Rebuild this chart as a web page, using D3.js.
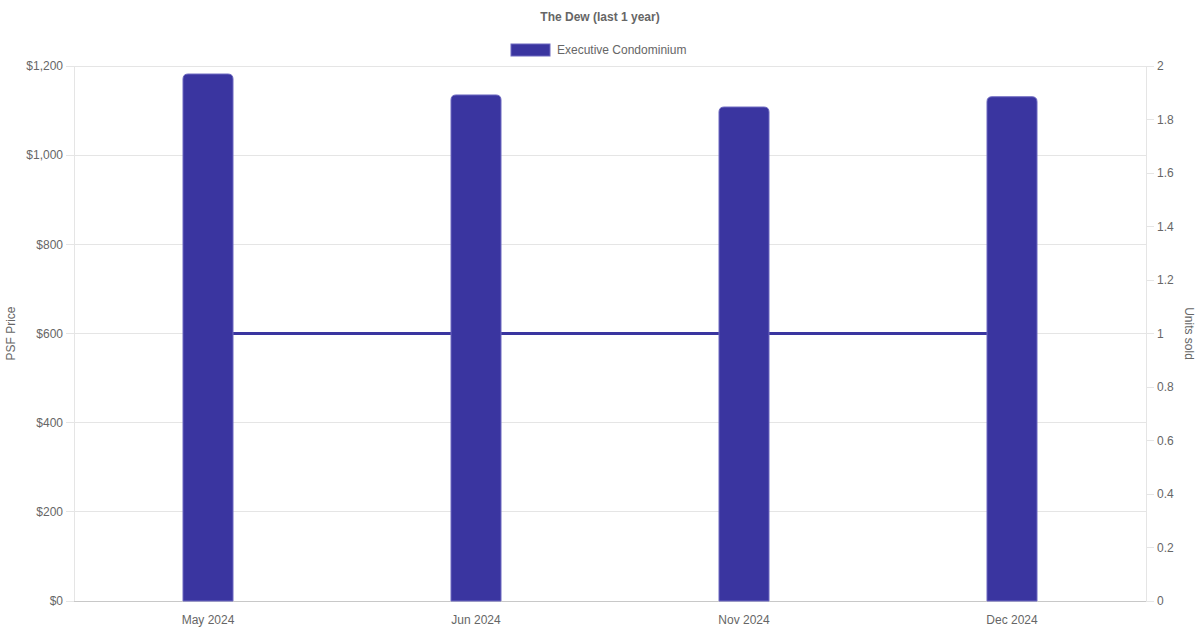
<!DOCTYPE html>
<html><head><meta charset="utf-8">
<script src="https://cdn.jsdelivr.net/npm/d3@7/dist/d3.min.js"></script>
<style>body{margin:0;background:#fff}svg{display:block;font-family:"Liberation Sans",Arial,sans-serif}</style>
</head><body><svg id="c" width="1200" height="630"></svg>
<script>
const categories = ["May 2024", "Jun 2024", "Nov 2024", "Dec 2024"];
const psfValues = [1182, 1135, 1108, 1131];
const unitsSold = [1, 1, 1, 1];
const leftTicks = [0, 200, 400, 600, 800, 1000, 1200];
const rightTicks = [0, 0.2, 0.4, 0.6, 0.8, 1, 1.2, 1.4, 1.6, 1.8, 2];
const title = "The Dew (last 1 year)";
const seriesName = "Executive Condominium";

const svg = d3.select("#c");
const m = {l: 74, r: 1146, t: 66, b: 601};
const color = "#3a35a0";
const x = d3.scaleBand().domain(categories).range([m.l, m.r]);
const yL = d3.scaleLinear().domain([0, 1200]).range([m.b, m.t]);
const yR = d3.scaleLinear().domain([0, 2]).range([m.b, m.t]);

// grid
svg.append("g").selectAll("line").data(leftTicks).join("line")
  .attr("x1", m.l - 8).attr("x2", m.r).attr("y1", d => yL(d)).attr("y2", d => yL(d))
  .attr("stroke", "#e5e5e5").attr("shape-rendering", "crispEdges");
svg.append("g").selectAll("line").data(rightTicks).join("line")
  .attr("x1", m.r).attr("x2", m.r + 8).attr("y1", d => yR(d)).attr("y2", d => yR(d))
  .attr("stroke", "#e5e5e5").attr("shape-rendering", "crispEdges");
[m.l, m.r].forEach(xx => svg.append("line").attr("x1", xx).attr("x2", xx).attr("y1", m.t).attr("y2", m.b)
  .attr("stroke", "#e5e5e5").attr("shape-rendering", "crispEdges"));
svg.append("line").attr("x1", m.l).attr("x2", m.r).attr("y1", m.b).attr("y2", m.b)
  .attr("stroke", "#c8c8c8").attr("shape-rendering", "crispEdges");

// left ticks labels
svg.append("g").selectAll("text").data(leftTicks).join("text")
  .attr("x", m.l - 11).attr("y", d => yL(d)).attr("dy", "0.35em").attr("text-anchor", "end")
  .attr("font-size", 12).attr("fill", "#666").text(d => "$" + d3.format(",")(d));
svg.append("g").selectAll("text").data(rightTicks).join("text")
  .attr("x", m.r + 11).attr("y", d => yR(d)).attr("dy", "0.35em").attr("text-anchor", "start")
  .attr("font-size", 12).attr("fill", "#666").text(d => d3.format("~g")(d));
svg.append("g").selectAll("text").data(categories).join("text")
  .attr("x", d => x(d) + x.bandwidth() / 2).attr("y", 620).attr("dy", "0.35em").attr("text-anchor", "middle")
  .attr("font-size", 12).attr("fill", "#666").text(d => d);

// axis titles
svg.append("text").attr("transform", `translate(15,${(m.t + m.b) / 2}) rotate(-90)`)
  .attr("text-anchor", "middle").attr("font-size", 12).attr("fill", "#666").text("PSF Price");
svg.append("text").attr("transform", `translate(1185,${(m.t + m.b) / 2}) rotate(90)`)
  .attr("text-anchor", "middle").attr("font-size", 12).attr("fill", "#666").text("Units sold");

// line (behind bars)
const line = d3.line().x((d, i) => x(categories[i]) + x.bandwidth() / 2).y(d => yR(d));
svg.append("path").datum(unitsSold).attr("d", line).attr("fill", "none")
  .attr("stroke", color).attr("stroke-width", 3);

// bars with rounded top
const bw = 50, r = 5;
svg.append("g").selectAll("path").data(psfValues).join("path")
  .attr("d", (d, i) => {
    const cx = x(categories[i]) + x.bandwidth() / 2, x0 = cx - bw / 2, x1 = cx + bw / 2;
    const y0 = yL(d), yb = yL(0);
    return `M${x0},${yb}V${y0 + r}Q${x0},${y0} ${x0 + r},${y0}H${x1 - r}Q${x1},${y0} ${x1},${y0 + r}V${yb}Z`;
  })
  .attr("fill", color).attr("stroke", "#6c68c0").attr("stroke-width", 1);

// title
svg.append("text").attr("x", 600).attr("y", 17).attr("dy", "0.35em").attr("text-anchor", "middle")
  .attr("font-size", 12).attr("font-weight", "bold").attr("fill", "#666").text(title);
// legend
svg.append("rect").attr("x", 511).attr("y", 44).attr("width", 39).attr("height", 12)
  .attr("fill", color).attr("stroke", "#6c68c0");
svg.append("text").attr("x", 557).attr("y", 50).attr("dy", "0.35em")
  .attr("font-size", 12).attr("fill", "#666").text(seriesName);
</script></body></html>
